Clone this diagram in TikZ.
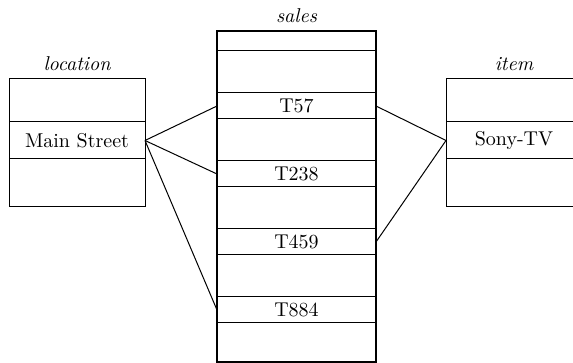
\documentclass[tikz,border=0pt]{standalone}
\usetikzlibrary{positioning}

\begin{document}
\begin{tikzpicture}[
    x=0.5pt, y=-0.5pt,
    font=\fontsize{10}{12}\selectfont,
    row/.style={draw, rectangle, inner sep=0pt, outer sep=0pt, line width=0.5pt},
    locrow/.style={row, minimum width=68pt},
    salesrow/.style={row, minimum width=79.5pt},
    title/.style={font=\itshape\fontsize{10}{12}\selectfont, inner sep=0pt},
    link/.style={line width=0.5pt},
]
\clip (0,0) rectangle (573,363);

% location
\node[locrow, minimum height=21.5pt] (loc1) at (77,100.5) {};
\node[locrow, minimum height=18.5pt, below=0pt of loc1] (loc2) {Main Street};
\node[locrow, minimum height=24pt, below=0pt of loc2] (loc3) {};
\node[title, above=4pt of loc1] (loctitle) {location};

% sales
\node[salesrow, minimum height=10pt] (s1) at (296.5,41) {};
\node[salesrow, minimum height=21pt, below=0pt of s1] (s2) {};
\node[salesrow, minimum height=13pt, below=0pt of s2] (s3) {T57};
\node[salesrow, minimum height=21pt, below=0pt of s3] (s4) {};
\node[salesrow, minimum height=13pt, below=0pt of s4] (s5) {T238};
\node[salesrow, minimum height=21pt, below=0pt of s5] (s6) {};
\node[salesrow, minimum height=13pt, below=0pt of s6] (s7) {T459};
\node[salesrow, minimum height=21pt, below=0pt of s7] (s8) {};
\node[salesrow, minimum height=13pt, below=0pt of s8] (s9) {T884};
\node[salesrow, minimum height=19.5pt, below=0pt of s9] (s10) {};
\draw[line width=1.1pt] (s1.north west) rectangle (s10.south east);
\node[title, above=4pt of s1] (salestitle) {sales};

% item
\node[locrow, minimum height=21.5pt] (item1) at (514,100.5) {};
\node[locrow, minimum height=18.5pt, below=0pt of item1] (item2) {Sony-TV};
\node[locrow, minimum height=24pt, below=0pt of item2] (item3) {};
\node[title, above=4pt of item1] (itemtitle) {item};

\draw[link] (loc2.east) -- (s3.west);
\draw[link] (loc2.east) -- (s5.west);
\draw[link] (loc2.east) -- (s9.west);
\draw[link] (item2.west) -- (s3.east);
\draw[link] (item2.west) -- (s7.east);
\end{tikzpicture}
\end{document}
